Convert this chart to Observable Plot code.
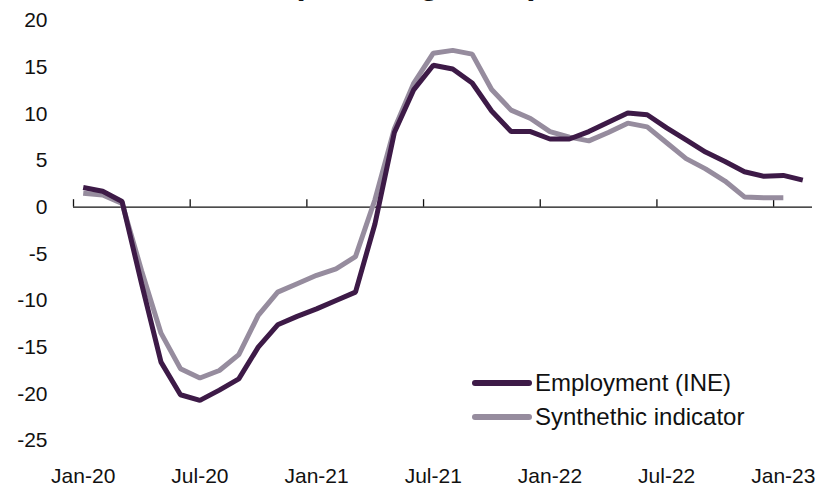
<!DOCTYPE html>
<html>
<head>
<meta charset="utf-8">
<script src="https://cdn.jsdelivr.net/npm/d3@7"></script>
<script src="https://cdn.jsdelivr.net/npm/@observablehq/plot@0.6"></script>
<style>
  html, body { margin: 0; padding: 0; background: #fff; overflow: hidden; }
  #wrap { position: relative; width: 817px; height: 490px; font-family: "Liberation Sans", Lato, sans-serif; color: #111; }
  #title { position: absolute; left: 0; width: 832px; text-align: center; top: -35px; font-size: 33px; line-height: 36px; font-weight: bold; white-space: nowrap; }
  #legend { position: absolute; left: 472px; top: 366px; font-size: 24px; line-height: 34px; }
  .item { display: flex; align-items: center; height: 34px; }
  .sw { width: 60px; height: 6px; border-radius: 3px; margin-right: 3px; }
</style>
</head>
<body>
<div id="wrap">
  <div id="chart"></div>
  <div id="title">(% change YoY)</div>
  <div id="legend"></div>
</div>
<script>
// Month index: 0 = Jan-20 ... points placed at the middle of each month
const employment = [2.1, 1.7, 0.6, -8.2, -16.6, -20.1, -20.7, -19.6, -18.4, -15.0, -12.6, -11.7,
  -10.9, -10.0, -9.1, -1.8, 8.0, 12.6, 15.2, 14.8, 13.3, 10.3, 8.1, 8.1,
  7.3, 7.3, 8.1, 9.1, 10.1, 9.9, 8.5, 7.2, 5.9, 4.9, 3.8, 3.3, 3.4, 2.9];
const synthetic = [1.5, 1.3, 0.4, -6.8, -13.5, -17.3, -18.3, -17.5, -15.8, -11.6, -9.1, -8.2,
  -7.3, -6.6, -5.3, 0.8, 8.4, 13.3, 16.5, 16.8, 16.4, 12.6, 10.4, 9.5,
  8.1, 7.5, 7.1, 8.0, 9.0, 8.6, 6.9, 5.2, 4.1, 2.8, 1.1, 1.0, 1.0];
const xTickLabels = ["Jan-20", "Jul-20", "Jan-21", "Jul-21", "Jan-22", "Jul-22", "Jan-23"];
const xTickMonths = [0, 6, 12, 18, 24, 30, 36];
const yTicks = [20, 15, 10, 5, 0, -5, -10, -15, -20, -25];
const seriesNames = ["Employment (INE)", "Synthethic indicator"];
const colors = ["#3d1a47", "#968c9e"];

const empData = employment.map((v, i) => ({m: i + 0.5, v}));
const synData = synthetic.map((v, i) => ({m: i + 0.5, v}));
const labelPos = xTickMonths.map(m => m + 0.5);

const chart = Plot.plot({
  width: 817,
  height: 490,
  marginLeft: 73,
  marginRight: 5,
  marginTop: 20,
  marginBottom: 50,
  style: { fontFamily: '"Liberation Sans", Lato, sans-serif', fontSize: "21px", color: "#111", background: "#fff" },
  x: { domain: [0, 38] },
  y: { domain: [-25, 20] },
  marks: [
    Plot.axisY(yTicks, { tickSize: 0, tickPadding: 26, label: null, tickFormat: d => String(d) }),
    Plot.axisX(labelPos, { tickSize: 0, tickPadding: 28, label: null, tickFormat: d => xTickLabels[labelPos.indexOf(d)] }),
    Plot.ruleY([0], { x1: 0, x2: 38, stroke: "#111", strokeWidth: 1.3 }),
    Plot.ruleX(xTickMonths, { y1: 0, y2: 0.8, stroke: "#111", strokeWidth: 1.3 }),
    Plot.line(synData, { x: "m", y: "v", stroke: colors[1], strokeWidth: 5, strokeLinejoin: "miter", strokeLinecap: "butt" }),
    Plot.line(empData, { x: "m", y: "v", stroke: colors[0], strokeWidth: 5, strokeLinejoin: "miter", strokeLinecap: "butt" })
  ]
});
document.getElementById("chart").appendChild(chart);

const legend = document.getElementById("legend");
seriesNames.forEach((name, i) => {
  const it = document.createElement("div");
  it.className = "item";
  const sw = document.createElement("div");
  sw.className = "sw";
  sw.style.background = colors[i];
  const tx = document.createElement("span");
  tx.textContent = name;
  it.appendChild(sw);
  it.appendChild(tx);
  legend.appendChild(it);
});
</script>
</body>
</html>
